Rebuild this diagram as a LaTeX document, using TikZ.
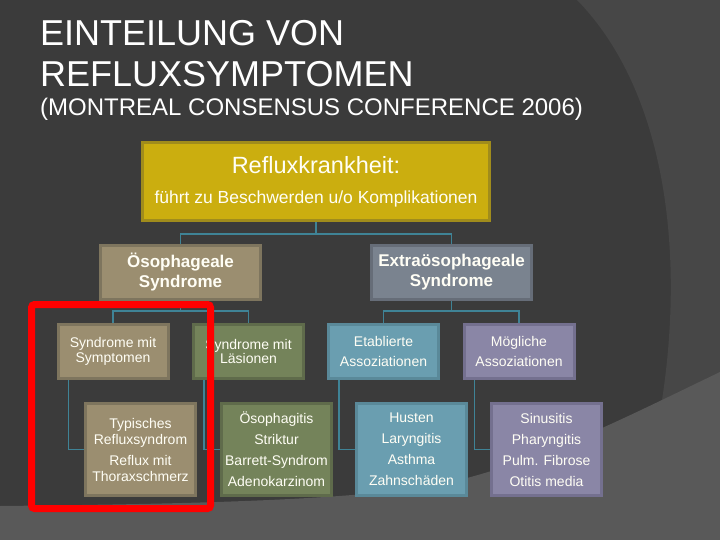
\documentclass[tikz,border=0pt]{standalone}
\usepackage{fontspec}
\setmainfont{Liberation Sans}
\usepackage{xcolor}
\usetikzlibrary{positioning}
\definecolor{bgdark}{HTML}{3B3B3B}
\definecolor{bgmid}{HTML}{474747}
\definecolor{bglight}{HTML}{595959}
\definecolor{goldfill}{HTML}{CBAE0F}
\definecolor{goldline}{HTML}{A08C1C}
\definecolor{tanfill}{HTML}{9B8E70}
\definecolor{tanline}{HTML}{7E755E}
\definecolor{olivefill}{HTML}{74835A}
\definecolor{oliveline}{HTML}{5F6B4B}
\definecolor{slatefill}{HTML}{7A838F}
\definecolor{slateline}{HTML}{666D78}
\definecolor{aquafill}{HTML}{6A9EB0}
\definecolor{aqualine}{HTML}{5A8999}
\definecolor{lilacfill}{HTML}{8A86A6}
\definecolor{lilacline}{HTML}{74708F}
\definecolor{linkcol}{HTML}{3F8396}

\begin{document}
\begin{tikzpicture}[x=1pt,y=-1pt,
  box/.style={draw, line width=3pt, inner sep=2pt, align=center, text=white!96!yellow},
  small box/.style={box, minimum width=110pt, minimum height=54pt, font=\fontsize{14}{14.5}\selectfont},
  list box/.style={box, minimum width=110pt, minimum height=92pt, font=\fontsize{14}{21}\selectfont},
  head box/.style={box, minimum width=160pt, minimum height=54pt, font=\bfseries\fontsize{17}{20}\selectfont},
  title/.style={anchor=base west, inner sep=0pt, text=white},
  link/.style={draw=linkcol, line width=1.2pt}]
  % background
  \fill[bgdark] (0,0) rectangle (720,540);
  \fill[bgmid] (577,0) .. controls (665,90) and (685,250) .. (662,400) -- (720,400) -- (720,0) -- cycle;
  \fill[bglight] (0,506) .. controls (200,504) and (330,500) .. (420,488)
     .. controls (520,472) and (620,420) .. (720,372) -- (720,540) -- (0,540) -- cycle;
  \useasboundingbox (0,0) rectangle (720,540);

  % Title
  \node[title, font=\fontsize{36}{36}\selectfont] (t1) at (40,46) {EINTEILUNG VON};
  \node[title, font=\fontsize{36}{36}\selectfont] (t2) at (40,87) {REFLUXSYMPTOMEN};
  \node[title, font=\fontsize{24}{24}\selectfont] (t3) at (40,116) {(MONTREAL CONSENSUS CONFERENCE 2006)};

  % Nodes
  \node[box, fill=goldfill, draw=goldline, minimum width=347pt, minimum height=78pt,
        font=\fontsize{17.5}{30}\selectfont] (1) at (316,181.5)
        {{\fontsize{23.5}{30}\selectfont Refluxkrankheit:}\\führt zu Beschwerden u/o Komplikationen};
  \node[head box, fill=tanfill, draw=tanline] (2) at (180.5,272.5) {Ösophageale\\Syndrome};
  \node[head box, fill=slatefill, draw=slateline] (3) at (451.5,272.5) {Extraösophageale\\Syndrome};

  \node[small box, fill=tanfill, draw=tanline] (4) at (113,351.5) {Syndrome mit\\Symptomen};
  \node[small box, fill=olivefill, draw=oliveline] (5) at (248.5,351.5) {Syndrome mit\\Läsionen};
  \node[small box, fill=aquafill, draw=aqualine, font=\fontsize{14}{20}\selectfont] (6) at (383.5,351.5) {Etablierte\\Assoziationen};
  \node[small box, fill=lilacfill, draw=lilacline, font=\fontsize{14}{20}\selectfont] (7) at (519,351.5) {Mögliche\\Assoziationen};

  \node[list box, fill=tanfill, draw=tanline, font=\fontsize{14}{16}\selectfont] (8) at (140.5,449.5)
        {Typisches\\Refluxsyndrom\\[5pt]Reflux mit\\Thoraxschmerz};
  \node[list box, fill=olivefill, draw=oliveline] (9) at (276.5,449.5)
        {Ösophagitis\\Striktur\\Barrett-Syndrom\\Adenokarzinom};
  \node[list box, fill=aquafill, draw=aqualine] (10) at (411.5,449.5)
        {Husten\\Laryngitis\\Asthma\\Zahnschäden};
  \node[list box, fill=lilacfill, draw=lilacline] (11) at (546.5,449.5)
        {Sinusitis\\Pharyngitis\\Pulm. Fibrose\\Otitis media};

  % Connectors
  \draw[link] (1.south) -- ++(0,12) -| (2.north);
  \draw[link] (1.south) -- ++(0,12) -| (3.north);
  \draw[link] (2.south) -- ++(0,10) -| (4.north);
  \draw[link] (2.south) -- ++(0,10) -| (5.north);
  \draw[link] (3.south) -- ++(0,10) -| (6.north);
  \draw[link] (3.south) -- ++(0,10) -| (7.north);
  \draw[link] ([xshift=12pt]4.south west) |- (8.west);
  \draw[link] ([xshift=12pt]5.south west) |- (9.west);
  \draw[link] ([xshift=12pt]6.south west) |- (10.west);
  \draw[link] ([xshift=12pt]7.south west) |- (11.west);

  % highlight
  \draw[red, line width=7pt, rounded corners=3pt] (31.5,304.5) rectangle (210.5,508.5);
\end{tikzpicture}
\end{document}
